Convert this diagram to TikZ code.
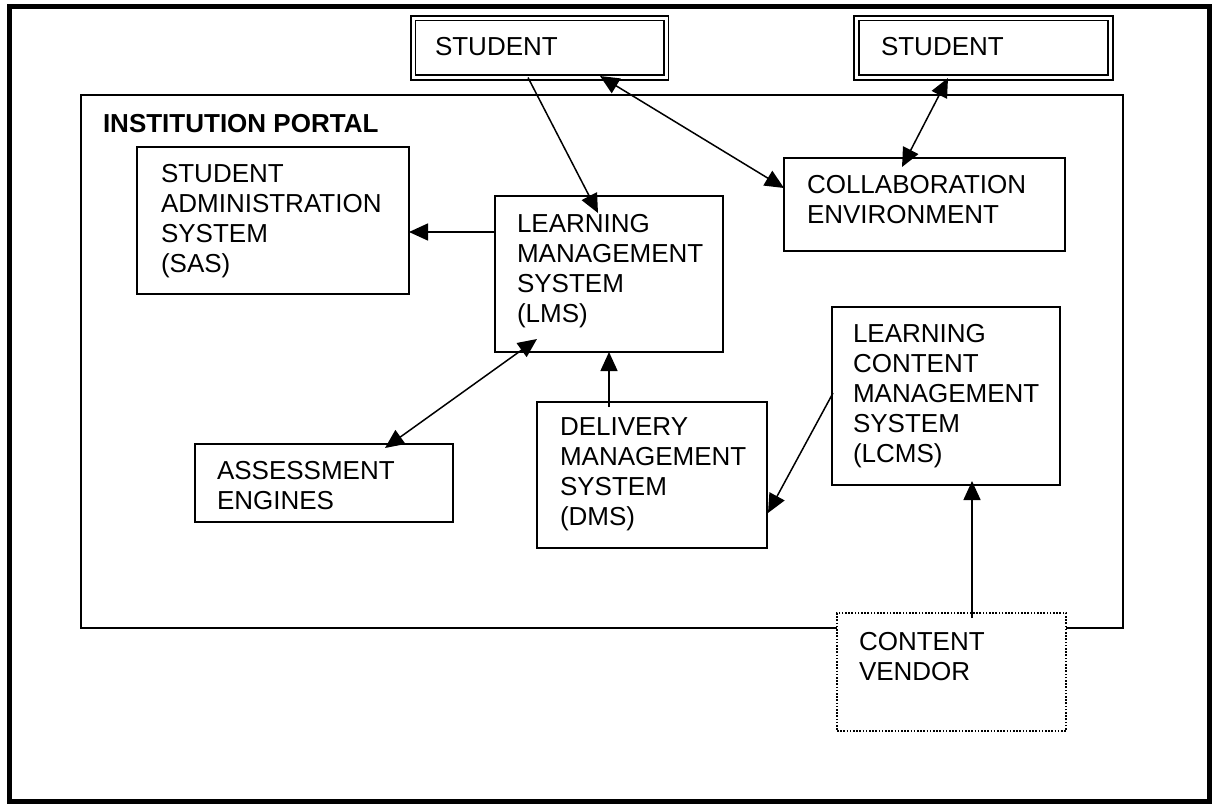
\documentclass[tikz,border=0pt]{standalone}
\usepackage{fontspec}
\setmainfont{Liberation Sans}
\usetikzlibrary{arrows.meta,calc}
\begin{document}
\begin{tikzpicture}[x=1pt,y=-1pt,
  every node/.style={inner sep=0pt, outer sep=0pt},
  box/.style={draw, line width=1.8pt, fill=white, anchor=north west},
  studentbox/.style={draw, double, double distance=3pt, line width=1.8pt, fill=white, anchor=north west},
  vendorbox/.style={draw, line width=1.6pt, dash pattern=on 1.6pt off 1.6pt, fill=white, anchor=north west},
  txt/.style={anchor=north west, align=left, font=\fontsize{26}{30}\selectfont},
  conn/.style={line width=1.5pt},
  onehead/.style={conn, -{Triangle[length=19pt,width=17pt]}},
  twoheads/.style={conn, {Triangle[length=19pt,width=17pt]}-{Triangle[length=19pt,width=17pt]}}
]
\useasboundingbox (0,0) rectangle (1214,803);

% outer frame
\draw[line width=5pt] (9.5,6.5) rectangle (1209,801.5);

% portal
\node[box, minimum width=1042pt, minimum height=533pt] (portal) at (81,95) {};
\node[txt, font=\fontsize{26}{30}\selectfont\bfseries] (portaltext) at (103,111) {\strut INSTITUTION PORTAL};

% students
\node[studentbox, minimum width=253pt, minimum height=59.5pt] (student1) at (413,18) {};
\node[studentbox, minimum width=254pt, minimum height=59.5pt] (student2) at (856.5,18) {};

% systems
\node[box, minimum width=272pt, minimum height=147pt] (sas) at (137,147) {};
\node[box, minimum width=228pt, minimum height=156pt] (lms) at (495,196) {};
\node[box, minimum width=281pt, minimum height=93pt] (collab) at (784,158) {};
\node[box, minimum width=228pt, minimum height=178pt] (lcms) at (832,307) {};
\node[box, minimum width=230pt, minimum height=146pt] (dms) at (537,402) {};
\node[box, minimum width=258pt, minimum height=78pt] (assess) at (195,444) {};
\node[vendorbox, minimum width=229pt, minimum height=118pt] (vendor) at (837,613) {};

% connectors
\draw[onehead] ($(student1.south west)+(115,0)$) -- ($(lms.north west)+(103,17)$);
\draw[twoheads] ($(student1.south west)+(187,-1.5)$) -- ($(collab.north west)+(0,30)$);
\draw[twoheads] ($(student2.south west)+(91.5,0.5)$) -- ($(collab.north west)+(118,9)$);
\draw[onehead] ($(lms.north west)+(0,36)$) -- ($(sas.north east)+(0,85)$);
\draw[twoheads] ($(lms.south west)+(42,-13)$) -- ($(assess.north east)+(-68,4)$);
\draw[onehead] ($(dms.north west)+(72,5)$) -- ($(lms.south west)+(114,0)$);
\draw[onehead] ($(lcms.north west)+(1,86)$) -- ($(dms.north east)+(1,111)$);
\draw[onehead] ($(vendor.north west)+(135,5)$) -- ($(lcms.south west)+(140,-4)$);

% texts
\node[txt] (student1text) at (435,34) {\strut STUDENT};
\node[txt] (student2text) at (881,34) {\strut STUDENT};
\node[txt] (sastext) at (161,161) {\strut STUDENT\\ADMINISTRATION\\SYSTEM\\(SAS)};
\node[txt] (lmstext) at (517,211) {\strut LEARNING\\MANAGEMENT\\SYSTEM\\(LMS)};
\node[txt] (collabtext) at (807,172) {\strut COLLABORATION\\ENVIRONMENT};
\node[txt] (lcmstext) at (853,321) {\strut LEARNING\\CONTENT\\MANAGEMENT\\SYSTEM\\(LCMS)};
\node[txt] (dmstext) at (560,414) {\strut DELIVERY\\MANAGEMENT\\SYSTEM\\(DMS)};
\node[txt] (assesstext) at (217,458) {\strut ASSESSMENT\\ENGINES};
\node[txt] (vendortext) at (859,629) {\strut CONTENT\\VENDOR};
\end{tikzpicture}
\end{document}
